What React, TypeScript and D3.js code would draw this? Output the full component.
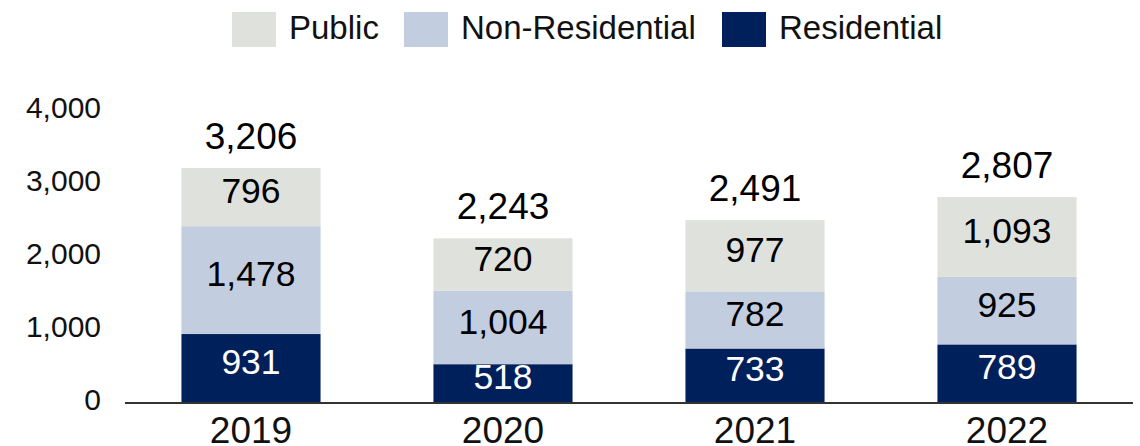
import React from "react";
import * as d3 from "d3";

const years = ["2019", "2020", "2021", "2022"];
const residential = [931, 518, 733, 789];
const nonResidential = [1478, 1004, 782, 925];
const publicVals = [796, 720, 977, 1093];
const totals = [3206, 2243, 2491, 2807];
const yTicks = [0, 1000, 2000, 3000, 4000];

const seriesKeys = ["Residential", "Non-Residential", "Public"];
const seriesColors: Record<string, string> = {
  Residential: "#00205B",
  "Non-Residential": "#C2CDE0",
  Public: "#DFE1DC",
};
const labelColors: Record<string, string> = {
  Residential: "#ffffff",
  "Non-Residential": "#000000",
  Public: "#000000",
};
const legendOrder = ["Public", "Non-Residential", "Residential"];

const W = 1140;
const H = 446;
const FONT = "'Liberation Sans', Arial, sans-serif";

export default function App() {
  const rows = years.map((y, i) => ({
    year: y,
    Residential: residential[i],
    "Non-Residential": nonResidential[i],
    Public: publicVals[i],
  }));
  const stack = d3.stack<any>().keys(seriesKeys)(rows);

  const x = d3
    .scaleBand<string>()
    .domain(years)
    .range([125, 1133])
    .paddingInner(0.448)
    .paddingOuter(0.224);
  const y = d3.scaleLinear().domain([0, 4000]).range([402, 110]);
  const fmt = d3.format(",");

  const legendX = [232, 404, 722];

  return (
    <svg
      width={W}
      height={H}
      style={{ position: "absolute", left: 0, top: 0, background: "#fff" }}
      fontFamily={FONT}
    >
      {/* legend */}
      {legendOrder.map((k, i) => (
        <g key={k}>
          <rect x={legendX[i]} y={12} width={44} height={35} fill={seriesColors[k]} />
          <text x={legendX[i] + 57} y={38.5} fontSize={33} fill="#111">
            {k}
          </text>
        </g>
      ))}

      {/* y ticks */}
      {yTicks.map((t) => (
        <text key={t} x={101} y={y(t) + 8} fontSize={30} textAnchor="end" fill="#111">
          {fmt(t)}
        </text>
      ))}

      {/* bars */}
      {stack.map((s) => (
        <g key={s.key}>
          {s.map((d, i) => {
            const y0 = y(d[0]);
            const y1 = y(d[1]);
            const mid = (y0 + y1) / 2;
            return (
              <g key={i}>
                <rect
                  x={x(years[i])}
                  y={y1}
                  width={x.bandwidth()}
                  height={y0 - y1}
                  fill={seriesColors[s.key]}
                />
                <text
                  x={(x(years[i]) as number) + x.bandwidth() / 2}
                  y={mid + 6}
                  fontSize={35.5}
                  textAnchor="middle"
                  fill={labelColors[s.key]}
                >
                  {fmt(d[1] - d[0])}
                </text>
              </g>
            );
          })}
        </g>
      ))}

      {/* totals */}
      {years.map((yr, i) => {
        const top = y(residential[i] + nonResidential[i] + publicVals[i]);
        return (
          <text
            key={yr}
            x={(x(yr) as number) + x.bandwidth() / 2}
            y={top - 19}
            fontSize={37}
            textAnchor="middle"
            fill="#000"
          >
            {fmt(totals[i])}
          </text>
        );
      })}

      {/* baseline */}
      <line x1={125} x2={1133} y1={403} y2={403} stroke="#333" strokeWidth={1.8} />

      {/* x labels */}
      {years.map((yr) => (
        <text
          key={yr}
          x={(x(yr) as number) + x.bandwidth() / 2}
          y={443}
          fontSize={37}
          textAnchor="middle"
          fill="#111"
        >
          {yr}
        </text>
      ))}
    </svg>
  );
}
